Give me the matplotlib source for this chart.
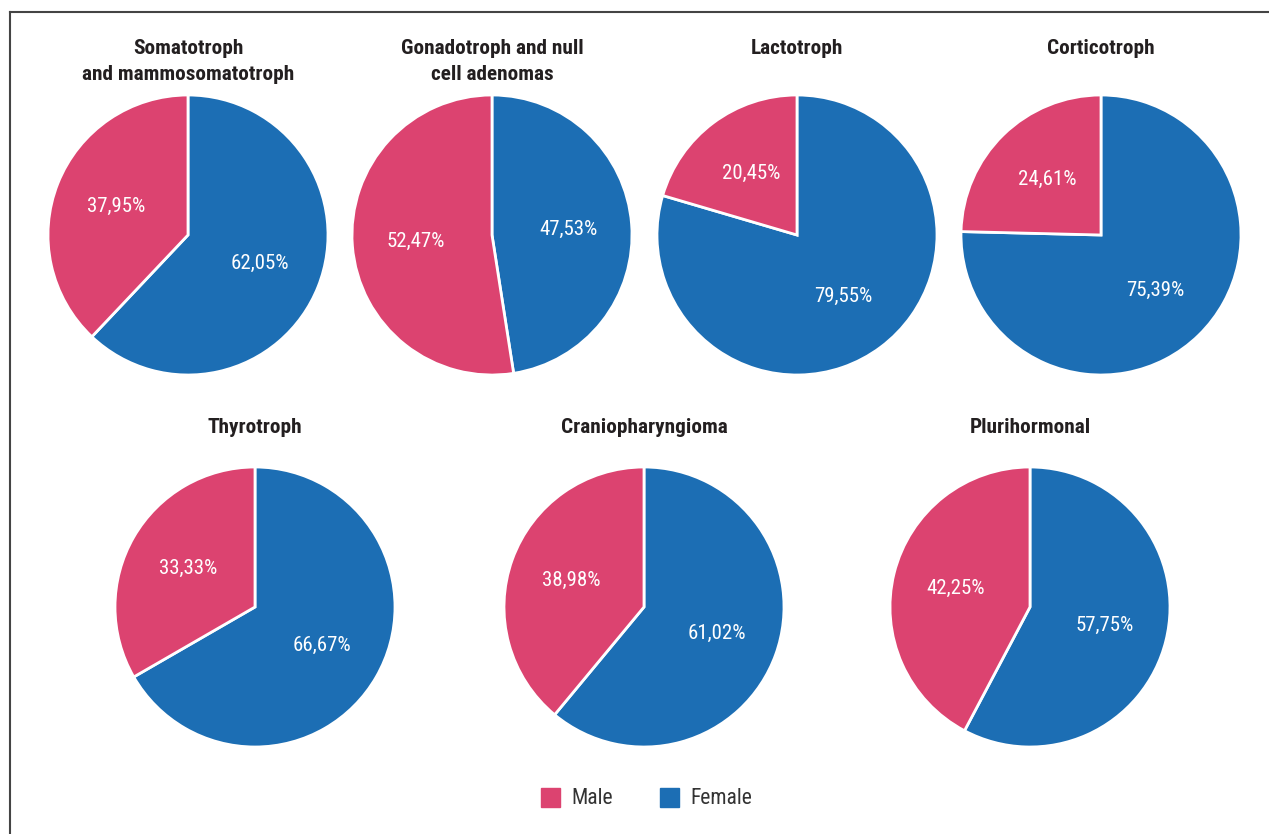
import matplotlib.pyplot as plt
from matplotlib.lines import Line2D
from matplotlib.patches import Rectangle

W, H = 1269, 834

titles = [
    "Somatotroph\nand mammosomatotroph",
    "Gonadotroph and null\ncell adenomas",
    "Lactotroph",
    "Corticotroph",
    "Thyrotroph",
    "Craniopharyngioma",
    "Plurihormonal",
]
female = [62.05, 47.53, 79.55, 75.39, 66.67, 61.02, 57.75]
male = [37.95, 52.47, 20.45, 24.61, 33.33, 38.98, 42.25]

# pixel centres of the pies
centres = [(188, 235), (492, 235), (797, 235), (1101, 235),
           (255, 607), (644, 607), (1030, 607)]
R = 140

FEMALE_C = "#1c6eb4"
MALE_C = "#dc4370"
FONT = ["Roboto Condensed", "Roboto", "DejaVu Sans"]

plt.rcParams["font.family"] = FONT

fig = plt.figure(figsize=(W / 100, H / 100), dpi=100)


def px_axes(cx, cy, r):
    return fig.add_axes([(cx - r) / W, 1 - (cy + r) / H, 2 * r / W, 2 * r / H])


def fmt(p):
    return f"{p:.2f}%".replace(".", ",")


for title, f, m, (cx, cy) in zip(titles, female, male, centres):
    ax = px_axes(cx, cy, R)
    ax.pie(
        [f, m],
        colors=[FEMALE_C, MALE_C],
        startangle=90,
        counterclock=False,
        radius=1,
        autopct=fmt,
        pctdistance=0.55,
        wedgeprops=dict(edgecolor="white", linewidth=2),
        textprops=dict(color="white", fontsize=15),
    )
    ax.set_xlim(-1, 1)
    ax.set_ylim(-1, 1)
    ax.set_aspect("equal")
    ax.axis("off")
    for p in ax.patches:
        p.set_clip_on(False)

    ty = 49 if cy < 400 else 427
    lines = title.split("\n")
    for i, line in enumerate(lines):
        fig.text(cx / W, 1 - (ty + 25 * i) / H, line, ha="center", va="center",
                 fontsize=15.3, fontweight="bold", color="#231f20")

# legend
for x0, label, col in [(541, "Male", MALE_C), (660, "Female", FEMALE_C)]:
    fig.patches.append(Rectangle((x0 / W, 1 - 807 / H), 19 / W, 19 / H,
                                 transform=fig.transFigure, color=col))
    fig.text((x0 + 30) / W, 1 - 798 / H, label, ha="left", va="center",
             fontsize=15.5, color="#333333")

# frame on top and left
fig.add_artist(Line2D([10 / W, 1], [1 - 12 / H, 1 - 12 / H], color="#444444",
                      linewidth=1.5, transform=fig.transFigure))
fig.add_artist(Line2D([10 / W, 10 / W], [1 - 12 / H, 0], color="#444444",
                      linewidth=1.5, transform=fig.transFigure))

fig.savefig("out.png", dpi=100)
